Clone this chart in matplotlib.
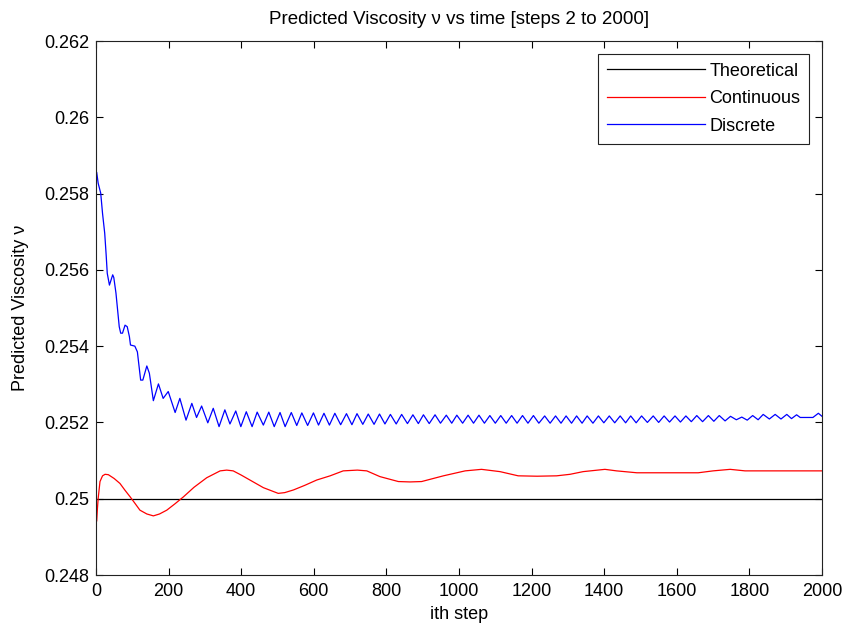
import numpy as np
import matplotlib
matplotlib.use("Agg")
import matplotlib.pyplot as plt

# ---------------------------------------------------------
# Data: predicted viscosity per step
# ---------------------------------------------------------
theo_steps = [2, 2000]
theo_vals = [0.25, 0.25]

cont_steps = [2, 4, 6, 11, 18, 25, 34, 50, 66, 80, 94, 108, 121, 140, 158, 175,
              195, 218, 241, 270, 305, 342, 360, 378, 400, 424, 461, 502, 520,
              544, 575, 608, 645, 681, 720, 746, 782, 833, 865, 897, 957, 1017,
              1062, 1113, 1163, 1215, 1269, 1306, 1342, 1402, 1434, 1490, 1575,
              1659, 1700, 1747, 1788, 2000]
cont_vals = [0.24942, 0.24975, 0.25001, 0.25045, 0.25060, 0.25064, 0.25063,
             0.25053, 0.25040, 0.25022, 0.25005, 0.24987, 0.24970, 0.24960,
             0.24955, 0.24960, 0.24970, 0.24987, 0.25005, 0.25030, 0.25055,
             0.25073, 0.25075, 0.25073, 0.25062, 0.25049, 0.25029, 0.25014,
             0.25016, 0.25023, 0.25035, 0.25049, 0.25060, 0.25073, 0.25075,
             0.25073, 0.25058, 0.25045, 0.25044, 0.25045, 0.25060, 0.25073,
             0.25077, 0.25071, 0.25060, 0.25059, 0.25060, 0.25064, 0.25071,
             0.25077, 0.25073, 0.25068, 0.25068, 0.25068, 0.25073, 0.25077,
             0.25073, 0.25073]

# discrete estimate: initial transient
disc_head_steps = [2, 6, 13, 18, 24, 28, 31, 37, 46, 49, 55, 60, 64, 68, 73, 80,
                   86, 92, 95, 107, 114, 123, 129, 140, 147, 158, 172, 185, 199,
                   218, 231, 248, 264, 277]
disc_head_vals = [0.25855, 0.25827, 0.25801, 0.25748, 0.25696, 0.25639, 0.25591,
                  0.25560, 0.25587, 0.25580, 0.25539, 0.25490, 0.25451, 0.25434,
                  0.25434, 0.25455, 0.25451, 0.25425, 0.25403, 0.25400, 0.25385,
                  0.25311, 0.25311, 0.25348, 0.25329, 0.25257, 0.25301, 0.25263,
                  0.25281, 0.25226, 0.25263, 0.25206, 0.25250, 0.25213]

# discrete estimate: oscillation peaks
disc_peak_steps = [291, 323, 355, 385, 414, 444, 476, 507, 538, 567, 599, 628,
                   658, 690, 719, 750, 781, 811, 842, 873, 902, 934, 965, 994,
                   1025, 1055, 1085, 1115, 1145, 1175, 1205, 1236, 1266, 1295,
                   1324, 1353, 1384, 1414, 1444, 1473, 1503, 1535, 1565, 1595,
                   1625, 1655, 1687, 1717, 1748, 1779, 1809, 1838, 1871, 1903,
                   1930]
disc_peak_vals = [0.25243, 0.25237, 0.25233, 0.25230, 0.25228, 0.25227, 0.25227,
                  0.25226, 0.25226, 0.25225, 0.25225, 0.25224, 0.25224, 0.25223,
                  0.25223, 0.25222, 0.25222, 0.25221, 0.25221, 0.25220, 0.25220,
                  0.25220, 0.25219, 0.25219, 0.25219, 0.25219, 0.25218, 0.25218,
                  0.25218, 0.25218, 0.25218, 0.25217, 0.25217, 0.25217, 0.25217,
                  0.25217, 0.25217, 0.25217, 0.25217, 0.25217, 0.25217, 0.25217,
                  0.25217, 0.25217, 0.25217, 0.25218, 0.25218, 0.25218, 0.25216,
                  0.25214, 0.25218, 0.25221, 0.25221, 0.25221, 0.25220]

# discrete estimate: oscillation troughs
disc_trough_steps = [308, 339, 369, 399, 430, 461, 491, 521, 553, 583, 613, 643,
                     674, 705, 735, 766, 796, 827, 858, 888, 918, 949, 980, 1010,
                     1040, 1070, 1100, 1130, 1160, 1190, 1220, 1251, 1281, 1310,
                     1339, 1369, 1399, 1429, 1459, 1488, 1519, 1550, 1580, 1610,
                     1640, 1671, 1702, 1733, 1764, 1794, 1824, 1855, 1887, 1916]
disc_trough_vals = [0.25199, 0.25189, 0.25196, 0.25189, 0.25189, 0.25193, 0.25189,
                    0.25189, 0.25192, 0.25192, 0.25193, 0.25193, 0.25194, 0.25194,
                    0.25195, 0.25195, 0.25196, 0.25196, 0.25197, 0.25197, 0.25197,
                    0.25198, 0.25198, 0.25198, 0.25198, 0.25198, 0.25198, 0.25198,
                    0.25198, 0.25198, 0.25198, 0.25198, 0.25198, 0.25198, 0.25198,
                    0.25198, 0.25199, 0.25199, 0.25199, 0.25199, 0.25200, 0.25200,
                    0.25201, 0.25201, 0.25202, 0.25202, 0.25203, 0.25204, 0.25207,
                    0.25206, 0.25207, 0.25209, 0.25209, 0.25210]

# discrete estimate: last steps
disc_tail_steps = [1940, 1975, 1990, 2000]
disc_tail_vals = [0.25213, 0.25213, 0.25224, 0.25216]

ytick_vals = [0.248, 0.25, 0.252, 0.254, 0.256, 0.258, 0.26, 0.262]
ytick_labels = ['0.248', '0.25', '0.252', '0.254', '0.256', '0.258', '0.26', '0.262']
xtick_vals = [0, 200, 400, 600, 800, 1000, 1200, 1400, 1600, 1800, 2000]

# merge the discrete pieces in step order
disc_steps = np.array(disc_head_steps + disc_peak_steps + disc_trough_steps + disc_tail_steps)
disc_vals = np.array(disc_head_vals + disc_peak_vals + disc_trough_vals + disc_tail_vals)
order = np.argsort(disc_steps)
disc_steps = disc_steps[order]
disc_vals = disc_vals[order]

# ---------------------------------------------------------
# Plot
# ---------------------------------------------------------
plt.rcParams['font.family'] = ['Liberation Sans', 'DejaVu Sans']
plt.rcParams['font.size'] = 13

fig = plt.figure(figsize=(8.46, 6.25), dpi=100)
ax = fig.add_axes([96 / 846, 50 / 625, 726 / 846, 534 / 625])

ax.plot(theo_steps, theo_vals, color='black', lw=0.9, label='Theoretical')
ax.plot(cont_steps, cont_vals, color='red', lw=0.9, label='Continuous')
ax.plot(disc_steps, disc_vals, color='blue', lw=0.9, label='Discrete')

ax.set_xlim(0, 2000)
ax.set_ylim(0.248, 0.262)
ax.set_xticks(xtick_vals)
ax.set_yticks(ytick_vals)
ax.set_yticklabels(ytick_labels)
ax.tick_params(direction='in', length=5, width=0.8, top=True, right=True,
               pad=5, colors='black', labelsize=13)
ax.tick_params(axis='x', pad=6)
for s in ax.spines.values():
    s.set_linewidth(0.8)
    s.set_color('#222222')

ax.set_title('Predicted Viscosity ν vs time [steps 2 to 2000]', fontsize=13.5, pad=12)
ax.set_xlabel('ith step', fontsize=13, labelpad=4)
ax.set_ylabel('Predicted Viscosity ν', fontsize=13, labelpad=11)

leg = ax.legend(loc='upper right', fancybox=False, framealpha=1, edgecolor='#222222',
                handlelength=5.4, handletextpad=0.25, labelspacing=0.58,
                borderaxespad=0.7, borderpad=0.5, fontsize=13)
leg.get_frame().set_linewidth(0.8)

fig.savefig('out.png', dpi=100, facecolor='white')
plt.close(fig)
